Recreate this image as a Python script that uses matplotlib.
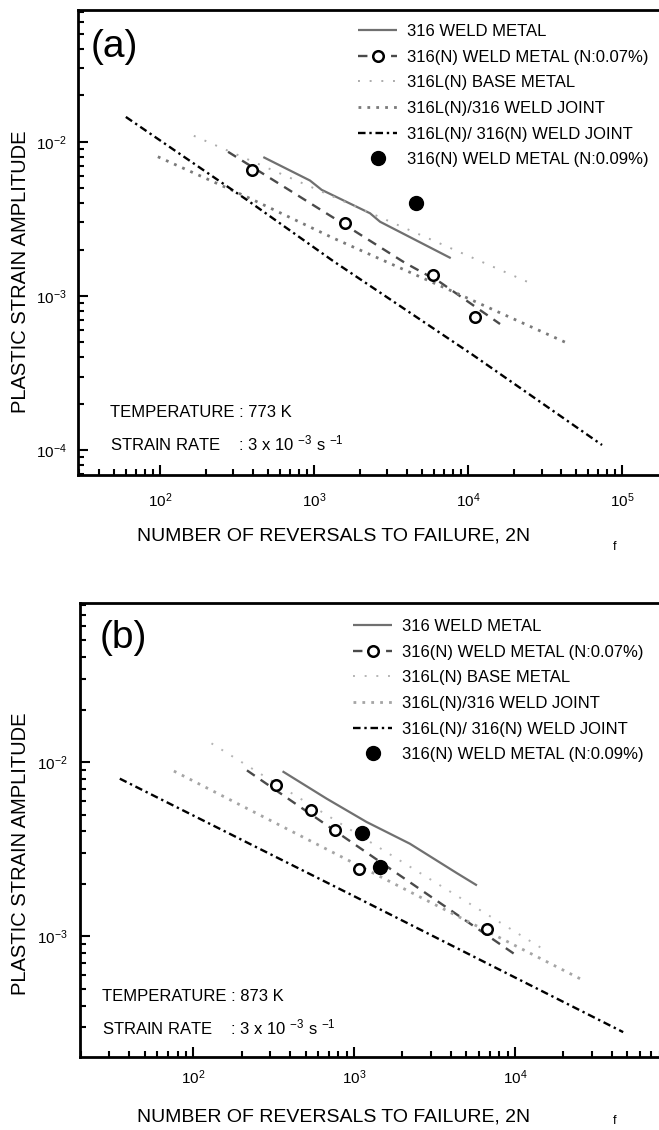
import matplotlib
matplotlib.use('Agg')
import matplotlib.pyplot as plt
from matplotlib.ticker import NullFormatter

plt.rcParams['font.family'] = ['Liberation Sans', 'DejaVu Sans']
plt.rcParams['mathtext.fontset'] = 'custom'
plt.rcParams['mathtext.rm'] = 'Liberation Sans'
plt.rcParams['mathtext.it'] = 'Liberation Sans:italic'
plt.rcParams['mathtext.bf'] = 'Liberation Sans:bold'

# ---- data, panel (a) 773 K ----
weld316_a_N = [469, 942, 1122, 2312, 2687, 7727]
weld316_a_e = [7.96e-3, 5.61e-3, 4.88e-3, 3.44e-3, 3.03e-3, 1.76e-3]
weldN07_a_N = [394, 1589, 5957, 11100]
weldN07_a_e = [6.52e-3, 2.97e-3, 1.37e-3, 7.28e-4]
weldN07fit_a_N = [277, 1589, 3899, 6577, 16140]
weldN07fit_a_e = [8.61e-3, 2.89e-3, 1.64e-3, 1.23e-3, 6.58e-4]
base_a_N = [166, 986, 24550]
base_a_e = [1.094e-2, 5.03e-3, 1.23e-3]
joint316_a_N = [97, 367, 1327, 7640, 43950]
joint316_a_e = [8.0e-3, 4.39e-3, 2.38e-3, 1.09e-3, 4.95e-4]
jointN_a_N = [60.1, 367, 1327, 10770, 74130]
jointN_a_e = [1.45e-2, 4.20e-3, 1.69e-3, 4.14e-4, 1.08e-4]
weldN09_a_N = [4592]
weldN09_a_e = [4.00e-3]

# ---- data, panel (b) 873 K ----
weld316_b_N = [359.5, 675, 1197, 2224, 4340, 5808]
weld316_b_e = [8.85e-3, 6.17e-3, 4.53e-3, 3.40e-3, 2.31e-3, 1.96e-3]
weldN07_b_N = [327, 540, 760, 1077, 6670]
weldN07_b_e = [7.35e-3, 5.33e-3, 4.09e-3, 2.42e-3, 1.10e-3]
weldN07fit_b_N = [216, 853, 10000]
weldN07fit_b_e = [8.96e-3, 3.75e-3, 7.88e-4]
base_b_N = [130, 2133, 15380]
base_b_e = [1.28e-2, 2.57e-3, 8.32e-4]
joint316_b_N = [75.9, 3420, 26500]
joint316_b_e = [8.88e-3, 1.47e-3, 5.60e-4]
jointN_b_N = [35.0, 1000, 47100]
jointN_b_e = [8.03e-3, 1.70e-3, 2.82e-4]
weldN09_b_N = [1114, 1449]
weldN09_b_e = [3.93e-3, 2.50e-3]

labels = ['316 WELD METAL', '316(N) WELD METAL (N:0.07%)', '316L(N) BASE METAL',
          '316L(N)/316 WELD JOINT', '316L(N)/ 316(N) WELD JOINT', '316(N) WELD METAL (N:0.09%)']

W, H = 659, 1130
fig = plt.figure(figsize=(W / 100, H / 100), dpi=100)


def px(x, y):
    return x / W, 1 - y / H


def panel(ax, d, style):
    l1, = ax.plot(d[0], d[1], color='#707070', lw=1.6, solid_capstyle='butt')
    l2, = ax.plot(d[4], d[5], color='#4a4a4a', lw=1.7, ls=(0, (4, 3)))
    p2, = ax.plot(d[2], d[3], ls='none', marker='o', mfc='white', mec='black',
                  ms=7.6, mew=1.8, zorder=5)
    l3, = ax.plot(d[6], d[7], color=style['base'], lw=1.4, ls=(0, (1, 5)))
    l4, = ax.plot(d[8], d[9], color=style['joint'], lw=2.0, ls=(0, (1, 2.2)))
    l5, = ax.plot(d[10], d[11], color='black', lw=1.7, ls=(0, (3.2, 1.6, 1, 1.6)))
    p6, = ax.plot(d[12], d[13], ls='none', marker='o', color='black', ms=10, zorder=5)
    return [l1, (l2, p2), l3, l4, l5, p6]


def style_axes(ax, xlim, ylim, xpad, ypad):
    ax.set_xscale('log')
    ax.set_yscale('log')
    ax.set_xlim(*xlim)
    ax.set_ylim(*ylim)
    for s in ax.spines.values():
        s.set_linewidth(2.0)
    ax.tick_params(which='both', direction='in', top=False, right=False, width=1.5,
                   labelsize=11)
    ax.tick_params(which='major', length=7)
    ax.tick_params(which='minor', length=4)
    ax.tick_params(axis='x', pad=xpad)
    ax.tick_params(axis='y', pad=ypad)
    ax.xaxis.set_minor_formatter(NullFormatter())
    ax.yaxis.set_minor_formatter(NullFormatter())


# panel (a)
ax1 = fig.add_axes([78 / W, 1 - 475 / H, (665 - 78) / W, (475 - 10) / H])
h1 = panel(ax1, [weld316_a_N, weld316_a_e, weldN07_a_N, weldN07_a_e, weldN07fit_a_N,
                 weldN07fit_a_e, base_a_N, base_a_e, joint316_a_N, joint316_a_e,
                 jointN_a_N, jointN_a_e, weldN09_a_N, weldN09_a_e],
           {'base': '#ababab', 'joint': '#7a7a7a'})
style_axes(ax1, (29.4, 1.9e5), (6.9e-5, 0.0716), 12, 8)

# panel (b)
ax2 = fig.add_axes([80 / W, 1 - 1057 / H, (665 - 80) / W, (1057 - 603) / H])
h2 = panel(ax2, [weld316_b_N, weld316_b_e, weldN07_b_N, weldN07_b_e, weldN07fit_b_N,
                 weldN07fit_b_e, base_b_N, base_b_e, joint316_b_N, joint316_b_e,
                 jointN_b_N, jointN_b_e, weldN09_b_N, weldN09_b_e],
           {'base': '#b5b5b5', 'joint': '#a5a5a5'})
style_axes(ax2, (19.8, 8.57e4), (2.03e-4, 0.0818), 8.5, 8.6)

for ax, h, lx, ly, tag, tagxy, ylab_y, xlab_y, f_y, temp, txt_x, txt_y in [
        (ax1, h1, 358, 24, '(a)', (91, 47), 272, 535.5, 547, '773', 110, 412.7),
        (ax2, h2, 353, 619, '(b)', (100, 638), 854, 1117, 1121, '873', 101.7, 996.7)]:
    ax.legend(h, labels, loc='upper left', bbox_to_anchor=px(lx, ly),
              bbox_transform=fig.transFigure, frameon=False, fontsize=12,
              handlelength=2.35, handletextpad=0.6, borderpad=0, borderaxespad=0,
              labelspacing=0.64, numpoints=1)
    fig.text(*px(*tagxy), tag, fontsize=28, ha='left', va='center')
    ax.set_ylabel('PLASTIC STRAIN AMPLITUDE', fontsize=14.5)
    ax.yaxis.set_label_coords(*px(21, ylab_y), transform=fig.transFigure)
    ax.yaxis.label.set_va('center')
    ax.set_xlabel('NUMBER OF REVERSALS TO FAILURE, 2N', fontsize=14)
    ax.xaxis.set_label_coords(*px(334, xlab_y), transform=fig.transFigure)
    ax.xaxis.label.set_va('center')
    fig.text(*px(615, f_y), 'f', fontsize=9, ha='center', va='center')
    fig.text(*px(txt_x, txt_y), 'TEMPERATURE : ' + temp + ' K', fontsize=12,
             ha='left', va='center')
    fig.text(*px(txt_x, txt_y + 31), r'STRAIN RATE    : 3 x 10 $^{-3}$ s $^{-1}$',
             fontsize=12, ha='left', va='center')

fig.savefig('out.png', dpi=100)
